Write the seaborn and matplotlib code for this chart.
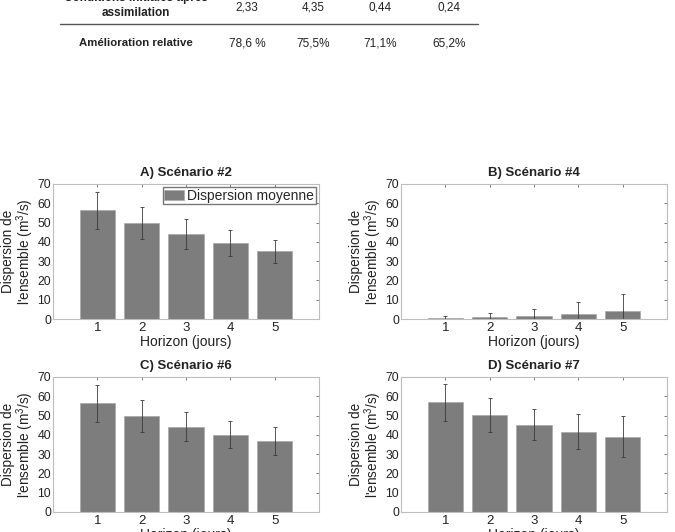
import numpy as np
import matplotlib
matplotlib.use('Agg')
import matplotlib.pyplot as plt
from matplotlib.lines import Line2D
from matplotlib.patches import Patch
import seaborn as sns

# --- data ---
horizons = [1, 2, 3, 4, 5]

titles = ['A) Scénario #2', 'B) Scénario #4', 'C) Scénario #6', 'D) Scénario #7']

disp_s2 = [56.3, 49.7, 44.0, 39.2, 35.1]
err_s2 = [9.4, 8.4, 7.6, 6.7, 6.1]

disp_s4 = [0.5, 0.9, 1.4, 2.4, 4.0]
err_s4 = [0.9, 2.2, 3.8, 6.2, 8.8]

disp_s6 = [56.3, 49.8, 44.3, 40.1, 36.8]
err_s6 = [9.5, 8.5, 7.5, 7.1, 7.4]

disp_s7 = [56.8, 50.3, 45.3, 41.7, 39.1]
err_s7 = [9.4, 8.6, 8.1, 9.0, 10.6]

legend_label = 'Dispersion moyenne'
xlabel = 'Horizon (jours)'
ylabel = "Dispersion de\nl'ensemble (m$^3$/s)"
yticks = [0, 10, 20, 30, 40, 50, 60, 70]

# table fragment at the top of the page
row1_label = ['Conditions initiales après', 'assimilation']
row1_values = ['2,33', '4,35', '0,44', '0,24']
row2_label = 'Amélioration relative'
row2_values = ['78,6 %', '75,5%', '71,1%', '65,2%']

sns.set_style('white')
plt.rcParams['font.family'] = ['Liberation Sans', 'DejaVu Sans']
plt.rcParams['mathtext.fontset'] = 'custom'
plt.rcParams['mathtext.rm'] = 'Liberation Sans'
plt.rcParams['mathtext.it'] = 'Liberation Sans:italic'

W, H = 675, 532
fig = plt.figure(figsize=(W / 100, H / 100), dpi=100)
txt = '#222222'
bar_col = '#7d7d7d'


def fx(px):
    return px / W


def fy(py):
    return 1 - py / H


# --- table text ---
col_x = [247, 313, 380, 449]
for line, y in zip(row1_label, [-1.5, 13]):
    fig.text(fx(136), fy(y), line, ha='center', va='center', fontsize=8.5,
             fontweight='bold', color=txt)
for x, v in zip(col_x, row1_values):
    fig.text(fx(x), fy(7), v, ha='center', va='center', fontsize=8.5, color=txt)
fig.add_artist(Line2D([fx(60), fx(478)], [fy(24.3), fy(24.3)], color='#555555', lw=1.0))
fig.text(fx(136), fy(43), row2_label, ha='center', va='center', fontsize=8.2,
         fontweight='bold', color=txt)
for x, v in zip(col_x, row2_values):
    fig.text(fx(x), fy(43), v, ha='center', va='center', fontsize=8.5, color=txt)

# --- bar panels ---
panels = [
    (disp_s2, err_s2, [53, 184]),
    (disp_s4, err_s4, [401, 184]),
    (disp_s6, err_s6, [53, 377]),
    (disp_s7, err_s7, [401, 377]),
]
aw, ah = 266, 135

for i, (vals, errs, (left, top)) in enumerate(panels):
    ax = fig.add_axes([fx(left), fy(top + ah), aw / W, ah / H])
    sns.barplot(x=horizons, y=vals, native_scale=True, color=bar_col, saturation=1,
                edgecolor='#a8a8a8', linewidth=0.5, errorbar=None, ax=ax)
    ax.errorbar(horizons, vals, yerr=errs, fmt='none', ecolor='#3a3a3a',
                elinewidth=0.6, capsize=1.5, capthick=0.6)
    ax.set_xlim(0, 6)
    ax.set_ylim(0, 70)
    ax.set_xticks(horizons)
    ax.set_yticks(yticks)
    ax.tick_params(direction='in', top=True, right=True, length=2.5, width=0.6,
                   color='#666666', labelsize=9.5, labelcolor=txt, pad=2)
    ax.tick_params(axis='y', labelsize=8.8, pad=1.5)
    for s in ax.spines.values():
        s.set_color('#bdbdbd')
        s.set_linewidth(0.8)
    ax.set_title(titles[i], fontsize=9.5, fontweight='bold', color=txt, pad=6)
    ax.set_xlabel(xlabel, fontsize=10, color=txt, labelpad=1)
    ax.set_ylabel(ylabel, fontsize=9.8, color=txt, linespacing=0.95)
    ax.yaxis.set_label_coords(-0.063, 0.5)
    if i == 0:
        handle = Patch(facecolor=bar_col, edgecolor='#a8a8a8', linewidth=0.5)
        ax.legend([handle], [legend_label], loc='upper right', fontsize=10,
                  frameon=True, fancybox=False, edgecolor='#777777', framealpha=1,
                  handlelength=1.4, handleheight=0.75, handletextpad=0.25,
                  borderpad=0.1, borderaxespad=0.25)

fig.savefig('out.png', dpi=100)
